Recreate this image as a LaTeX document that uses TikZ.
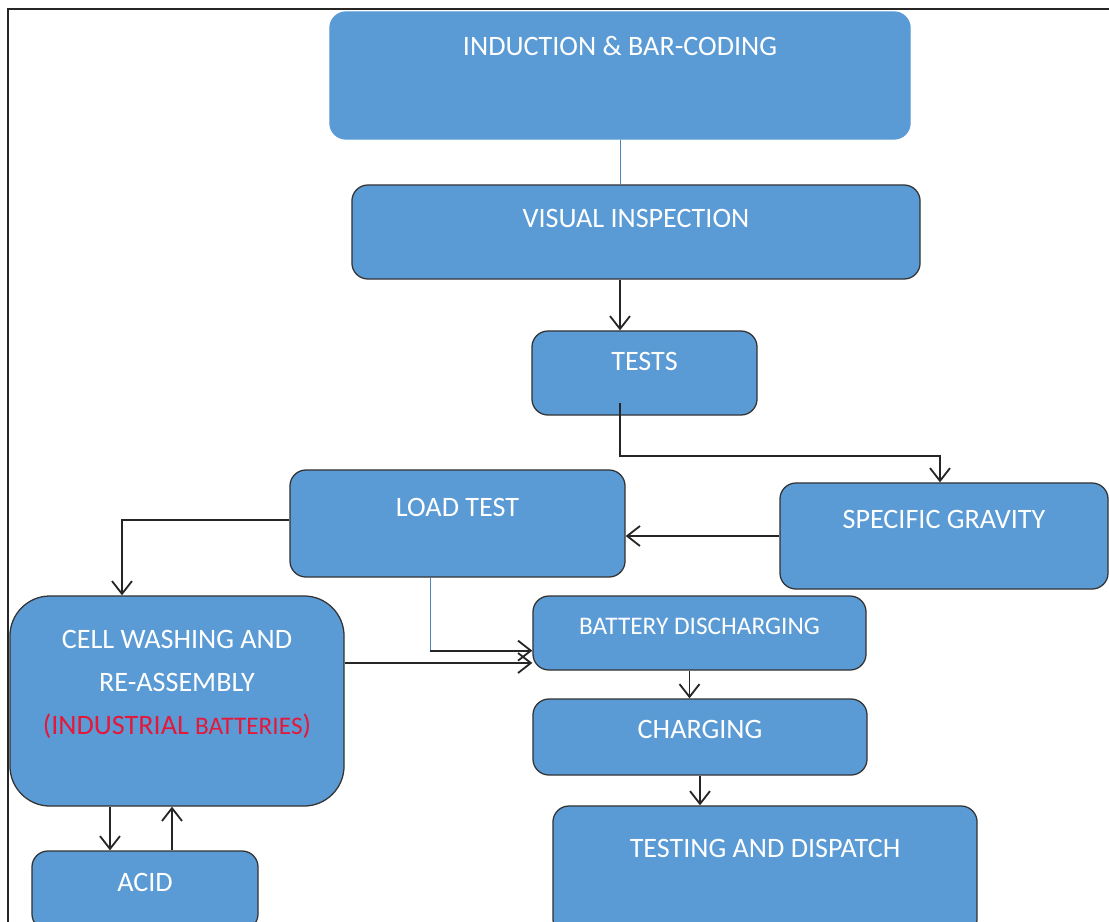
\documentclass[tikz,border=0pt]{standalone}
\usepackage{fontspec}
\setmainfont{Carlito}
\usepackage{xcolor}
\usetikzlibrary{arrows.meta, positioning}

\definecolor{boxblue}{HTML}{5B9BD5}
\definecolor{alertred}{RGB}{228,24,58}

\begin{document}
\begin{tikzpicture}[
    x=0.025cm, y=-0.025cm,
    box/.style={rectangle, rounded corners=0.4cm, draw=black!80, fill=boxblue, line width=0.9pt, inner sep=0pt},
    txt/.style={anchor=center, text=white, font=\fontsize{20}{24}\selectfont, align=center},
    arrow/.style={->, >={Straight Barb[length=0.32cm, width=0.5cm]}, line width=1.3pt, black!85},
    blueline/.style={draw=boxblue!85!black, line width=0.7pt}
]
\useasboundingbox (0,0) rectangle (1109,921);
\clip (0,0) rectangle (1109,921);

% frame
\draw[line width=1.5pt, black!85] (8,940) -- (8,9) -- (1120,9);

% =====================
% Main column
% =====================
\node[box, draw=boxblue, minimum width=14.5cm, minimum height=3.175cm,
      label={[txt, yshift=-0.875cm]north:INDUCTION \& BAR-CODING}] (induct) at (620,75.5) {};
\node[box, minimum width=14.2cm, minimum height=2.35cm,
      label={[txt, yshift=-0.85cm]north:VISUAL INSPECTION}] (visual) at (636,232) {};
\node[box, minimum width=5.625cm, minimum height=2.1cm,
      label={[txt, yshift=-0.775cm]north:TESTS}] (tests) at (644.5,373) {};

% =====================
% Tests
% =====================
\node[box, minimum width=8.375cm, minimum height=2.675cm,
      label={[txt, yshift=-0.95cm]north:LOAD TEST}] (load) at (457.5,523.5) {};
\node[box, minimum width=8.2cm, minimum height=2.65cm,
      label={[txt, yshift=-0.925cm]north:SPECIFIC GRAVITY}] (gravity) at (944,536) {};

% =====================
% Left: industrial batteries
% =====================
\node[box, rounded corners=1cm, minimum width=8.35cm, minimum height=5.25cm,
      label={[txt, font=\fontsize{20}{30.5}\selectfont, yshift=-2.225cm]north:CELL WASHING AND\\RE-ASSEMBLY\\{\color{alertred}(INDUSTRIAL {\fontsize{18}{30.5}\selectfont BATTERIES})}}] (washing) at (177,701) {};
\node[box, minimum width=5.65cm, minimum height=1.975cm,
      label={[txt, yshift=-0.8cm]north:ACID}] (acid) at (145,890.5) {};

% =====================
% Right: charging
% =====================
\node[box, minimum width=8.325cm, minimum height=1.85cm,
      label={[txt, font=\fontsize{18}{22}\selectfont, yshift=-0.775cm]north:BATTERY DISCHARGING}] (discharge) at (699.5,633) {};
\node[box, minimum width=8.35cm, minimum height=1.9cm,
      label={[txt, yshift=-0.775cm]north:CHARGING}] (charging) at (700,737) {};
\node[box, minimum width=10.6cm, minimum height=3.225cm,
      label={[txt, yshift=-1.075cm]north:TESTING AND DISPATCH}] (dispatch) at (765,870.5) {};

% =====================
% Arrows
% =====================
\draw[blueline] (induct.south) -- (induct.south |- visual.north);
\draw[arrow] (visual.south -| induct.south) -- (tests.north -| induct.south);
\draw[arrow] ([yshift=0.325cm]tests.south -| induct.south) -- ++(0,53) -| ([xshift=-0.1cm]gravity.north);
\draw[arrow] (gravity.west) -- (gravity.west -| load.east);
\draw[arrow] ([yshift=0.09cm]load.west) -| ([xshift=-1.375cm]washing.north);

\draw[blueline] ([xshift=-0.6875cm]load.south) -- ++(0,73) coordinate (loadbend);
\draw[arrow] (loadbend) -- (loadbend -| discharge.west);
\draw[arrow] ([yshift=0.95cm]washing.east) -- ([yshift=0.95cm]washing.east -| discharge.west);

\draw[arrow] ([xshift=-0.25cm]discharge.south) -- ([xshift=-0.25cm]discharge.south |- charging.north);
\draw[arrow] (charging.south) -- (charging.south |- dispatch.north);

\draw[arrow] ([xshift=-1.675cm]washing.south) -- ([xshift=-1.675cm]washing.south |- acid.north);
\draw[arrow] ([xshift=0.675cm]acid.north) -- ([xshift=0.675cm]acid.north |- washing.south);

\end{tikzpicture}
\end{document}
